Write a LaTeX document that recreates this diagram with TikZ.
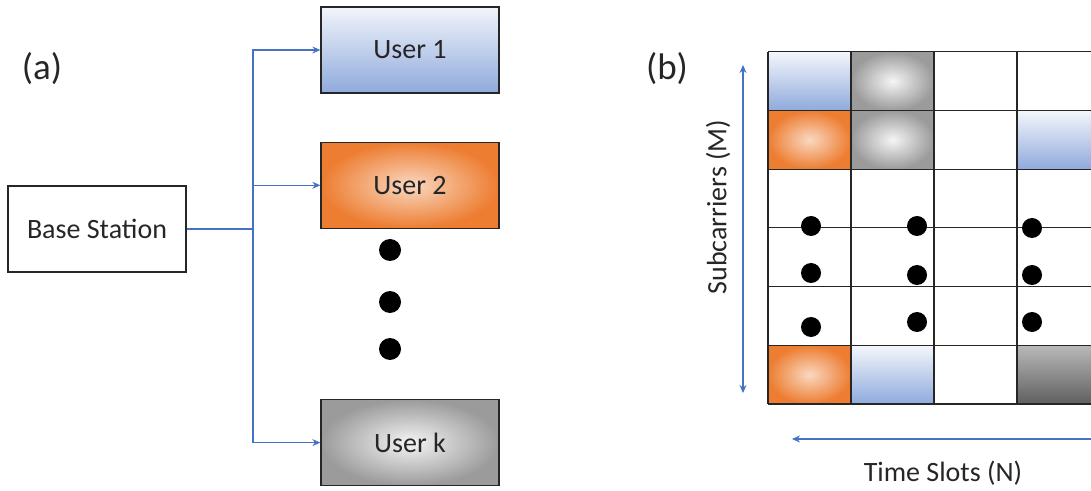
\documentclass[tikz,border=0pt]{standalone}
\usepackage{fontspec}
\setmainfont{Carlito}
\usepackage{tikz}
\usetikzlibrary{shapes,arrows,arrows.meta,positioning,calc}
\definecolor{userblue}{RGB}{143,170,220}
\definecolor{userorange}{RGB}{237,125,49}
\definecolor{usergray}{RGB}{155,155,155}
\definecolor{userdarkgray}{RGB}{95,95,95}
\definecolor{linkblue}{RGB}{68,114,196}

\begin{document}
\begin{tikzpicture}[
    x=1pt, y=1pt,
    every node/.style={align=center, text=black!85, font=\fontsize{28}{32}\selectfont},
    box/.style={rectangle, minimum width=178pt, minimum height=86pt, draw=black!85, line width=1.3pt},
    blueuser/.style={box, top color=userblue!12, bottom color=userblue},
    orangeuser/.style={box, inner color=userorange!30, outer color=userorange},
    grayuser/.style={box, inner color=black!4, outer color=usergray},
    panel/.style={font=\fontsize{37}{42}\selectfont},
    arrow/.style={->,>={Stealth[length=8pt,width=7pt]}, draw=linkblue, line width=1.2pt},
    dot/.style={fill=black}
]
\useasboundingbox (0,0) rectangle (1091,490);

% Panel (a): base station and users
\node[panel] (label_a) at (42,421) {(a)};
\node[box] (base_station) at (97,261) {Base Station};
\node[blueuser] (user_1) at (410,440) {User 1};
\node[orangeuser, below=48pt of user_1] (user_2) {User 2};
\node[grayuser, below=170pt of user_2] (user_k) {User k};

\coordinate (junction) at (253,261);
\draw[draw=linkblue, line width=2pt] (base_station) -- (junction);
\draw[arrow] (junction) |- (user_1);
\draw[arrow] (junction) |- (user_2);
\draw[arrow] (junction) |- (user_k);

\fill[dot] (390,240) circle (11);
\fill[dot] (390,188) circle (11);
\fill[dot] (390,141) circle (11);

% Panel (b): time-frequency grid
\node[panel] (label_b) at (667,421) {(b)};

\begin{scope}[shift={(768pt,86pt)}, x=83pt, y=58.7pt]
\shade[top color=userblue!10, bottom color=userblue] (0,5) rectangle (1,6);
\shade[inner color=black!4, outer color=usergray] (1,5) rectangle (2,6);
\shade[inner color=userorange!30, outer color=userorange] (0,4) rectangle (1,5);
\shade[inner color=black!4, outer color=usergray] (1,4) rectangle (2,5);
\shade[top color=userblue!10, bottom color=userblue] (3,4) rectangle (4,5);
\shade[inner color=userorange!30, outer color=userorange] (0,0) rectangle (1,1);
\shade[top color=userblue!10, bottom color=userblue] (1,0) rectangle (2,1);
\shade[top color=usergray!70, bottom color=userdarkgray] (3,0) rectangle (4,1);
\draw[line width=1.2pt, black!85, step=1] (0,0) grid (4,6);
\end{scope}

\fill[dot] (811,264) circle (10);
\fill[dot] (811,217) circle (10);
\fill[dot] (811,163) circle (10);
\fill[dot] (917,264) circle (10);
\fill[dot] (917,215) circle (10);
\fill[dot] (917,168) circle (10);
\fill[dot] (1032,262) circle (10);
\fill[dot] (1032,215) circle (10);
\fill[dot] (1032,168) circle (10);

% Axes
\coordinate (sc_top) at (743,425);
\coordinate (sc_bottom) at (743,97);
\draw[arrow, <->] (sc_bottom) -- (sc_top);
\node[rotate=90] (subcarriers) at (718,283) {Subcarriers (M)};

\coordinate (ts_left) at (792,51);
\coordinate (ts_right) at (1115,51);
\draw[arrow, <->] (ts_left) -- (ts_right);
\node (time_slots) at (943,17) {Time Slots (N)};

\end{tikzpicture}
\end{document}
